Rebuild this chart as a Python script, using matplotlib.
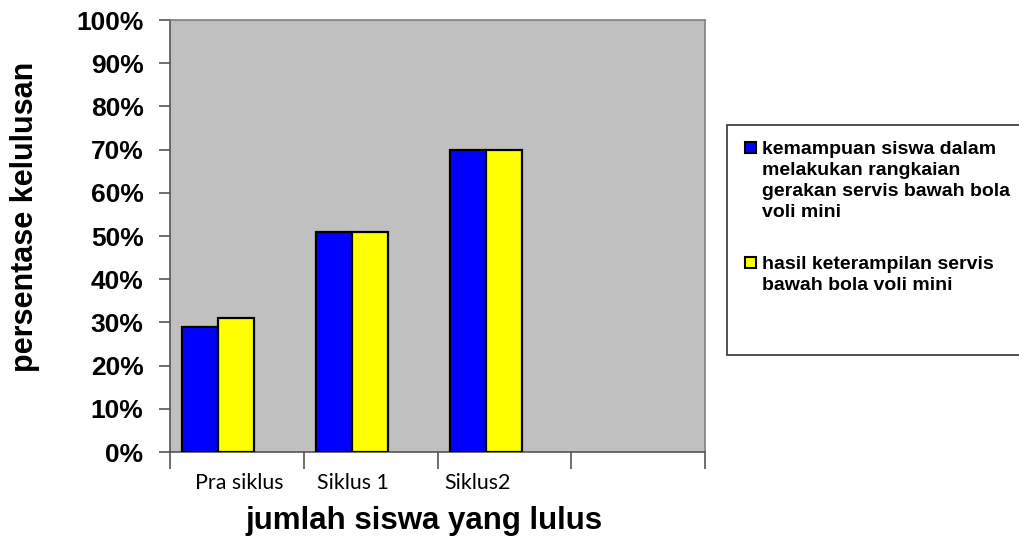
import matplotlib
matplotlib.use("Agg")
import matplotlib.pyplot as plt
from matplotlib.patches import Rectangle
import numpy as np

categories = ["Pra siklus", "Siklus 1", "Siklus2", ""]
series_names = [
    "kemampuan siswa dalam\nmelakukan rangkaian\ngerakan servis bawah bola\nvoli mini",
    "hasil keterampilan servis\nbawah bola voli mini",
]
series_colors = ["#0000FF", "#FFFF00"]
kemampuan = [29, 51, 70]
hasil = [31, 51, 70]
y_ticks = [0, 10, 20, 30, 40, 50, 60, 70, 80, 90, 100]
y_tick_labels = [f"{v}%" for v in y_ticks]

plt.rcParams['font.family'] = ['Liberation Sans', 'DejaVu Sans']

fig = plt.figure(figsize=(10.19, 5.39), dpi=100)
ax = fig.add_axes([170/1019, 1-452/539, 535/1019, 432/539])
ax.set_facecolor("#C0C0C0")

n = len(categories)
x0 = np.arange(len(kemampuan))
bw = 0.27
off = 0.09
ax.bar(x0 + off, kemampuan, width=bw, align="edge", color=series_colors[0],
       edgecolor="black", linewidth=1.6, zorder=3)
ax.bar(x0 + off + bw, hasil, width=bw, align="edge", color=series_colors[1],
       edgecolor="black", linewidth=1.6, zorder=3)

ax.set_xlim(0, n)
ax.set_ylim(0, 100)
ax.set_yticks(y_ticks)
ax.set_yticklabels(y_tick_labels, fontsize=19, fontweight="bold")
ax.tick_params(axis="y", length=8, width=1.2, color="#555555", pad=11)

# category boundaries as minor ticks, labels as major ticks
ax.set_xticks(np.arange(n + 1), minor=True)
ax.tick_params(axis="x", which="minor", length=12, width=1.2, color="#555555")
label_pos = [0.52, 1.37, 2.30]
ax.set_xticks(label_pos)
ax.set_xticklabels(categories[:3], fontsize=15.4, family=["Lato", "DejaVu Sans"])
ax.tick_params(axis="x", which="major", length=0, pad=15)

for s in ax.spines.values():
    s.set_color("#808080")
    s.set_linewidth(1.2)
ax.spines["left"].set_color("#555555")
ax.spines["bottom"].set_color("#555555")

fig.text(25/1019, 1-217/539, "persentase kelulusan", rotation=90, fontsize=22,
         fontweight="bold", ha="center", va="center")
fig.text(424/1019, 1-521/539, "jumlah siswa yang lulus", fontsize=22.5,
         fontweight="bold", ha="center", va="center")

# legend frame
fig.patches.append(Rectangle((727/1019, 1-355/539), 300/1019, 230/539,
                             transform=fig.transFigure, facecolor="white",
                             edgecolor="#333333", linewidth=1.2, zorder=1))
# legend entries (handle aligned with first line of each label)
entry_baselines = [153, 268]
for name, col, yb in zip(series_names, series_colors, entry_baselines):
    fig.patches.append(Rectangle((745/1019, 1-(yb)/539), 11/1019, 11/539,
                                 transform=fig.transFigure, facecolor=col,
                                 edgecolor="black", linewidth=1.5, zorder=2))
    fig.text(762/1019, 1-(yb-12)/539, name, fontsize=14, fontweight="bold",
             ha="left", va="top", linespacing=1.32, zorder=2)

fig.savefig("out.png", dpi=100)
